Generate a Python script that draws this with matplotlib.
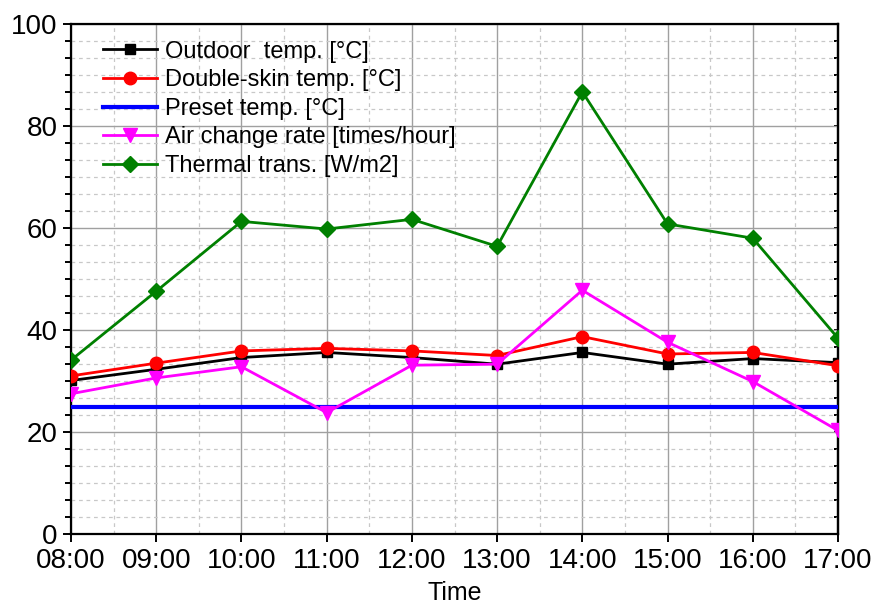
import numpy as np
import matplotlib
matplotlib.use('Agg')
import matplotlib.pyplot as plt
from matplotlib.ticker import MultipleLocator

plt.rcParams['font.family'] = ['Liberation Sans', 'DejaVu Sans']

hours = ['08:00', '09:00', '10:00', '11:00', '12:00', '13:00', '14:00', '15:00', '16:00', '17:00']
outdoor = [30.1, 32.3, 34.6, 35.6, 34.6, 33.3, 35.6, 33.3, 34.4, 33.6]
double_skin = [31.0, 33.5, 35.9, 36.4, 35.9, 35.0, 38.7, 35.3, 35.6, 33.0]
preset = [25.0] * 10
air_change = [27.5, 30.6, 32.8, 23.8, 33.1, 33.3, 47.8, 37.6, 29.9, 20.3]
thermal = [34.1, 47.6, 61.3, 59.8, 61.7, 56.4, 86.7, 60.8, 58.0, 38.4]

x = np.arange(len(hours))

fig = plt.figure(figsize=(8.77, 6.08), dpi=100)
ax = fig.add_axes([0.081, 0.1217, 0.8745, 0.8388])

ax.plot(x, outdoor, color='black', lw=2.0, marker='s', ms=7.5, label='Outdoor  temp. [°C]', zorder=3)
ax.plot(x, double_skin, color='red', lw=2.0, marker='o', ms=9, label='Double-skin temp. [°C]', zorder=3)
ax.plot(x, preset, color='blue', lw=3.0, label='Preset temp. [°C]', zorder=3)
ax.plot(x, air_change, color='magenta', lw=2.0, marker='v', ms=9.5, label='Air change rate [times/hour]', zorder=3)
ax.plot(x, thermal, color='green', lw=2.0, marker='D', ms=8.5, label='Thermal trans. [W/m2]', zorder=3)

ax.set_xlim(0, 9)
ax.set_ylim(0, 100)
ax.set_xticks(x)
ax.set_xticklabels(hours)
ax.xaxis.set_minor_locator(MultipleLocator(0.5))
ax.set_yticks(np.arange(0, 101, 20))
ax.yaxis.set_minor_locator(MultipleLocator(20 / 6))

ax.grid(which='major', color='#a0a0a0', lw=1.0, ls='-')
ax.grid(which='minor', color='#c8c8c8', lw=0.9, ls=(0, (3, 3)))
ax.set_axisbelow(True)

for s in ax.spines.values():
    s.set_linewidth(1.6)

ax.tick_params(which='both', direction='out', labelsize=20, width=1.4, top=False, right=False)
ax.tick_params(axis='y', which='major', length=6)
ax.tick_params(axis='y', which='minor', length=4)
ax.tick_params(axis='x', which='major', length=6, pad=4)
ax.tick_params(axis='x', which='minor', length=0)

# short inward ticks on the right side
sec = ax.secondary_yaxis('right')
sec.set_yticks(np.arange(0, 101, 20))
sec.yaxis.set_minor_locator(MultipleLocator(20 / 6))
sec.tick_params(which='both', direction='in', length=3, width=1.4, labelright=False)
sec.spines['right'].set_linewidth(1.6)

ax.set_xlabel('Time', fontsize=18, labelpad=5)

ax.legend(loc='upper left', bbox_to_anchor=(0.02, 1.0), frameon=False, fontsize=17,
          handlelength=2.3, handletextpad=0.35, labelspacing=0.28, borderaxespad=0.3)

fig.savefig('out.png', dpi=100)
